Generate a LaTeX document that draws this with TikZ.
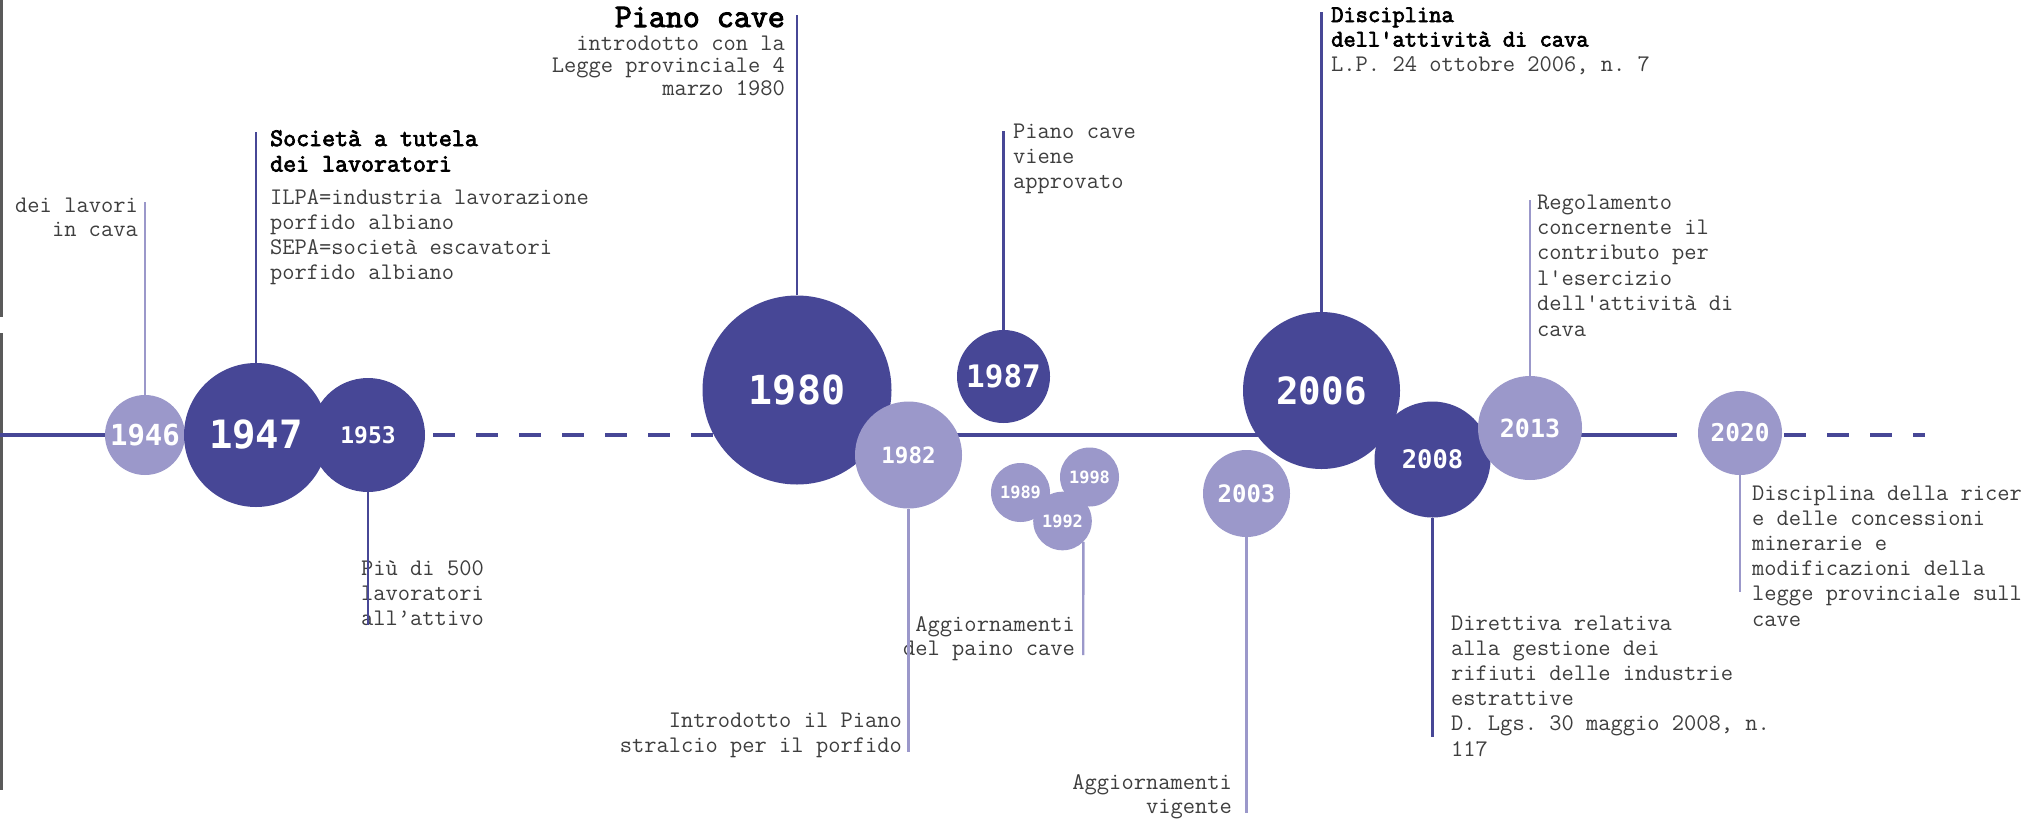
\documentclass[tikz,border=0pt]{standalone}
\usepackage{fontspec}
\setmonofont{Latin Modern Mono}
\newfontfamily\yearfont{DejaVu Sans Mono}
\definecolor{dk}{RGB}{71,71,150}
\definecolor{lt}{RGB}{155,152,202}
\definecolor{txt}{RGB}{62,62,62}
\definecolor{edge}{RGB}{90,90,90}
\newcommand\yf[1]{\yearfont\bfseries\fontsize{#1}{#1}\selectfont}
\newcommand\bodyfs[1]{\ttfamily\fontsize{23.8}{#1}\selectfont}
\newcommand\headfs[3]{\ttfamily\fontsize{#1}{#2}\selectfont\addfontfeatures{FakeBold=#3}}
\newcommand\LL[1]{\begin{tabular}[t]{@{}l@{}}#1\end{tabular}}
\newcommand\RR[1]{\begin{tabular}[t]{@{}r@{}}#1\end{tabular}}
\tikzset{
  yr/.style={circle, inner sep=0pt, text=white},
  dkc/.style={yr, fill=dk},
  ltc/.style={yr, fill=lt},
  axisline/.style={draw=dk, line width=3.3pt},
  axisdash/.style={axisline, dash pattern=on 22pt off 21pt},
  dkconn/.style={draw=dk, line width=2.2pt},
  ltconn/.style={draw=lt, line width=2.4pt},
  body/.style={inner sep=0pt, text=txt},
  head/.style={inner sep=0pt, text=black},
}
\begin{document}
\begin{tikzpicture}[x=1pt,y=-1pt]
\useasboundingbox (0,0) rectangle (2031,820);
\fill[white] (0,0) rectangle (2031,820);
\fill[edge] (0,0) rectangle (3,317);
\fill[edge] (0,333) rectangle (3,790);

% axis
\coordinate (a0) at (0,435);
\coordinate (a1) at (320,435);
\coordinate (d1) at (433,435);
\coordinate (d2) at (720,435);
\coordinate (s1) at (850,435);
\coordinate (s2) at (1677,435);
\coordinate (e1) at (1698,435);
\coordinate (e2) at (1925,435);
\draw[axisline] (a0) -- (a1);
\draw[axisdash] (d1) -- (d2);
\draw[axisline] (s1) -- (s2);
\draw[axisdash] (e1) -- (e2);

% circles
\node[ltc, minimum size=80pt, font=\yf{29}] (c1946) at (145,435) {1946};
\node[dkc, minimum size=144pt, font=\yf{39}] (c1947) at (256,435) {1947};
\node[dkc, minimum size=114pt, font=\yf{23}] (c1953) at (368,435) {1953};
\node[dkc, minimum size=189pt, font=\yf{40}] (c1980) at (797,390) {1980};
\node[ltc, minimum size=107pt, font=\yf{22.5}] (c1982) at (908.5,455) {1982};
\node[dkc, minimum size=93pt, font=\yf{31}] (c1987) at (1003.5,376.5) {1987};
\node[ltc, minimum size=59pt, font=\yf{17}] (c1989) at (1020.5,492.5) {1989};
\node[ltc, minimum size=59pt, font=\yf{17}] (c1998) at (1089.5,477) {1998};
\node[ltc, minimum size=58.6pt, font=\yf{17}] (c1992) at (1062.5,521) {1992};
\node[ltc, minimum size=87pt, font=\yf{24}] (c2003) at (1246.5,493.5) {2003};
\node[dkc, minimum size=157pt, font=\yf{37.5}] (c2006) at (1321.5,390.5) {2006};
\node[dkc, minimum size=116pt, font=\yf{25.5}] (c2008) at (1432.5,459.5) {2008};
\node[ltc, minimum size=104pt, font=\yf{25}] (c2013) at (1530,428) {2013};
\node[ltc, minimum size=84pt, font=\yf{24.5}] (c2020) at (1740,433) {2020};

% connector ends
\coordinate (t1946) at (145,202);
\coordinate (t1947) at (256,132);
\coordinate (t1953) at (368,625);
\coordinate (t1980) at (797,15);
\coordinate (t1982) at (908.5,752);
\coordinate (t1987) at (1003.5,131);
\coordinate (tclu) at (1083.2,655);
\coordinate (t2003) at (1246.5,813);
\coordinate (t2006) at (1321.5,12);
\coordinate (t2008) at (1432.5,737);
\coordinate (t2013) at (1530,200);
\coordinate (t2020) at (1740,592);

% texts
\node[body, anchor=base east, font=\bodyfs{24}] (x1946) at (138,212) {\RR{dei lavori\\in cava}};
\node[head, anchor=base west, font=\headfs{25.2}{25.5}{3}] (h1947) at (270,146) {\LL{Società a tutela\\dei lavoratori}};
\node[body, anchor=base west, font=\bodyfs{25}] (x1947) at (270,204) {\LL{ILPA=industria lavorazione\\porfido albiano\\SEPA=società escavatori\\porfido albiano}};
\node[body, anchor=base west, font=\bodyfs{25}] (x1953) at (361,575) {\LL{Più di 500\\lavoratori\\all’attivo}};
\node[head, anchor=base east, font=\headfs{33}{33}{3}] (h1980) at (785,27) {Piano cave};
\node[body, anchor=base east, font=\bodyfs{22.5}] (x1980) at (785,50) {\RR{introdotto con la\\Legge provinciale 4\\marzo 1980}};
\node[body, anchor=base east, font=\bodyfs{25}] (x1982) at (902,727) {\RR{Introdotto il Piano\\stralcio per il porfido}};
\node[body, anchor=base west, font=\bodyfs{25}] (x1987) at (1013,138) {\LL{Piano cave\\viene\\approvato}};
\node[body, anchor=base east, font=\bodyfs{24}] (xclu) at (1075,631) {\RR{Aggiornamenti\\del paino cave}};
\node[body, anchor=base east, font=\bodyfs{24}] (x2003) at (1232,789) {\RR{Aggiornamenti\\vigente}};
\node[head, anchor=base west, font=\headfs{23.8}{24.5}{3}] (h2006) at (1331,22) {\LL{Disciplina\\dell'attività di cava}};
\node[body, anchor=base west, font=\bodyfs{24.5}] (x2006) at (1331,71) {L.P. 24 ottobre 2006, n. 7};
\node[body, anchor=base west, font=\bodyfs{25.2}] (x2008) at (1451,630) {\LL{Direttiva relativa\\alla gestione dei\\rifiuti delle industrie\\estrattive\\D. Lgs. 30 maggio 2008, n.\\117}};
\node[body, anchor=base west, font=\bodyfs{25.4}] (x2013) at (1537,209) {\LL{Regolamento\\concernente il\\contributo per\\l'esercizio\\dell'attività di\\cava}};
\node[body, anchor=base west, font=\bodyfs{25.2}] (x2020) at (1752,500) {\LL{Disciplina della ricer\\e delle concessioni\\minerarie e\\modificazioni della\\legge provinciale sull\\cave}};

% connectors
\draw[ltconn] (c1946) -- (t1946);
\draw[dkconn] (c1947) -- (t1947);
\draw[dkconn] (c1953) -- (t1953);
\draw[dkconn] (c1980) -- (t1980);
\draw[ltconn] (c1982) -- (t1982);
\draw[dkconn] (c1987) -- (t1987);
\draw[ltconn] (c1992.south east) -- (tclu);
\draw[ltconn] (c2003) -- (t2003);
\draw[dkconn] (c2006) -- (t2006);
\draw[dkconn] (c2008) -- (t2008);
\draw[ltconn] (c2013) -- (t2013);
\draw[ltconn] (c2020) -- (t2020);
\end{tikzpicture}
\end{document}
